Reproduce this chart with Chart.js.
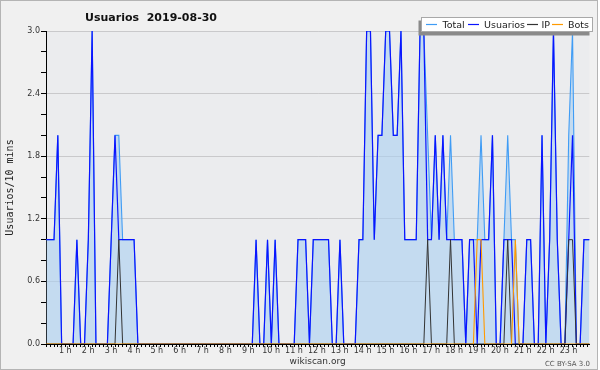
<!DOCTYPE html>
<html>
<head>
<meta charset="utf-8">
<title>Usuarios 2019-08-30</title>
<script src="https://cdn.jsdelivr.net/npm/chart.js@4/dist/chart.umd.min.js"></script>
<style>
  html, body { margin: 0; padding: 0; background: #ffffff; }
</style>
</head>
<body>
<canvas id="usersChart" width="600" height="370"></canvas>
<script>
//One value every 10 minutes, from 0:00 to 23:50 (6 values per row = 1 hour)
var total = [
    1,1,1,2,0,0,  0,0,1,0,0,1,  3,0,0,0,0,1,  2,2,1,1,1,1,
    0,0,0,0,0,0,  0,0,0,0,0,0,  0,0,0,0,0,0,  0,0,0,0,0,0,
    0,0,0,0,0,0,  0,1,0,0,1,0,  1,0,0,0,0,0,  1,1,1,0,1,1,
    1,1,1,0,0,1,  0,0,0,0,1,1,  3,3,1,2,2,3,  3,2,2,3,1,1,
    1,1,3,3,2,1,  2,1,2,1,2,1,  1,1,0,1,1,1,  2,1,1,2,0,0,
    1,2,1,1,0,0,  1,1,0,0,2,0,  1,3,1,0,0,2,  3,0,0,1,1,1
];
var usuarios = [
    1,1,1,2,0,0,  0,0,1,0,0,1,  3,0,0,0,0,1,  2,1,1,1,1,1,
    0,0,0,0,0,0,  0,0,0,0,0,0,  0,0,0,0,0,0,  0,0,0,0,0,0,
    0,0,0,0,0,0,  0,1,0,0,1,0,  1,0,0,0,0,0,  1,1,1,0,1,1,
    1,1,1,0,0,1,  0,0,0,0,1,1,  3,3,1,2,2,3,  3,2,2,3,1,1,
    1,1,3,3,1,1,  2,1,2,1,1,1,  1,1,0,1,1,0,  1,1,1,2,0,0,
    1,1,1,0,0,0,  1,1,0,0,2,0,  1,3,1,0,0,1,  2,0,0,1,1,1
];
var ip = [
    0,0,0,0,0,0,  0,0,0,0,0,0,  0,0,0,0,0,0,  0,1,0,0,0,0,
    0,0,0,0,0,0,  0,0,0,0,0,0,  0,0,0,0,0,0,  0,0,0,0,0,0,
    0,0,0,0,0,0,  0,0,0,0,0,0,  0,0,0,0,0,0,  0,0,0,0,0,0,
    0,0,0,0,0,0,  0,0,0,0,0,0,  0,0,0,0,0,0,  0,0,0,0,0,0,
    0,0,0,0,1,0,  0,0,0,0,1,0,  0,0,0,0,0,0,  0,0,0,0,0,0,
    0,1,0,0,0,0,  0,0,0,0,0,0,  0,0,0,0,0,1,  1,0,0,0,0,0
];
var bots = [
    0,0,0,0,0,0,  0,0,0,0,0,0,  0,0,0,0,0,0,  0,0,0,0,0,0,
    0,0,0,0,0,0,  0,0,0,0,0,0,  0,0,0,0,0,0,  0,0,0,0,0,0,
    0,0,0,0,0,0,  0,0,0,0,0,0,  0,0,0,0,0,0,  0,0,0,0,0,0,
    0,0,0,0,0,0,  0,0,0,0,0,0,  0,0,0,0,0,0,  0,0,0,0,0,0,
    0,0,0,0,0,0,  0,0,0,0,0,0,  0,0,0,0,0,1,  1,0,0,0,0,0,
    0,0,0,1,0,0,  0,0,0,0,0,0,  0,0,0,0,0,0,  0,0,0,0,0,0
];

//x positions = index of the 10 min slot
var slots = total.map(function (v, i) { return i; });

var seriesNames = ['Total', 'Usuarios', 'IP', 'Bots'];
var colors = ['#3f9cf5', '#0a14ff', '#333333', '#ff9a00'];
var titleText = 'Usuarios  2019-08-30';

//Background, frame, title, legend box and licence
var decorations = {
    id: 'decorations',
    beforeDraw: function (chart) {
        var ctx = chart.ctx;
        var area = chart.chartArea;
        ctx.save();
        ctx.fillStyle = '#f0f0f0';
        ctx.fillRect(0, 0, 598, 370);
        ctx.strokeStyle = '#b4b4b4';
        ctx.lineWidth = 1;
        ctx.strokeRect(0.5, 0.5, 597, 369);
        ctx.fillStyle = '#ebecee';
        ctx.fillRect(area.left, area.top, area.right - area.left, area.bottom - area.top);
        ctx.restore();
    },
    afterDraw: function (chart) {
        var ctx = chart.ctx;
        ctx.save();

        //Title
        ctx.fillStyle = '#111';
        ctx.font = 'bold 11px "DejaVu Sans"';
        ctx.textAlign = 'center';
        ctx.textBaseline = 'alphabetic';
        ctx.fillText(titleText, 151, 20.5);

        //Legend box, its shadow falls to the lower left
        ctx.fillStyle = '#8a8a8a';
        ctx.fillRect(418.5, 20.5, 171, 15);
        ctx.fillStyle = '#ffffff';
        ctx.fillRect(421.5, 17.5, 171, 14);
        ctx.strokeStyle = '#a8a8a8';
        ctx.lineWidth = 1;
        ctx.strokeRect(421.5, 17.5, 171, 14);

        var lineX = [426, 468, 527, 552];
        var textX = [442.5, 484, 541.5, 568];
        ctx.font = '9.5px "DejaVu Sans"';
        ctx.textAlign = 'left';
        for (var i = 0; i < seriesNames.length; i++) {
            ctx.strokeStyle = colors[i];
            ctx.lineWidth = 1.2;
            ctx.beginPath();
            ctx.moveTo(lineX[i], 24.5);
            ctx.lineTo(lineX[i] + 11, 24.5);
            ctx.stroke();
            ctx.fillStyle = '#222';
            ctx.fillText(seriesNames[i], textX[i], 28);
        }

        //Licence
        ctx.fillStyle = '#555';
        ctx.font = '7px "DejaVu Sans"';
        ctx.textAlign = 'right';
        ctx.fillText('CC BY-SA 3.0', 590, 366);
        ctx.restore();
    }
};

var ctx = document.getElementById('usersChart').getContext('2d');

var usersChart = new Chart(ctx, {
    type: 'line',
    data: {
        labels: slots,
        datasets: [{
            label: seriesNames[0],
            data: total,
            borderColor: colors[0],
            backgroundColor: 'rgba(172,209,241,0.62)',
            borderWidth: 1.1,
            fill: 'origin',
            order: 4
        }, {
            label: seriesNames[1],
            data: usuarios,
            borderColor: colors[1],
            borderWidth: 1.2,
            fill: false,
            order: 3
        }, {
            label: seriesNames[2],
            data: ip,
            borderColor: colors[2],
            borderWidth: 1,
            fill: false,
            order: 2
        }, {
            label: seriesNames[3],
            data: bots,
            borderColor: colors[3],
            borderWidth: 1.1,
            fill: false,
            order: 1
        }]
    },
    options: {
        responsive: false,
        animation: false,
        devicePixelRatio: 1,
        layout: {
            padding: { left: 0, top: 31, right: 10.7, bottom: 0 }
        },
        elements: {
            point: { radius: 0 },
            line: { tension: 0 }
        },
        plugins: {
            legend: { display: false },
            title: { display: false },
            tooltip: { enabled: false }
        },
        scales: {
            x: {
                type: 'linear',
                min: -0.1,
                max: 142.4,
                afterFit: function (scale) { scale.height = 26; },
                border: { display: true, color: '#000', width: 1 },
                grid: {
                    drawOnChartArea: false,
                    drawTicks: true,
                    tickLength: 3,
                    tickColor: '#000'
                },
                ticks: {
                    stepSize: 1,
                    autoSkip: false,
                    maxRotation: 0,
                    includeBounds: false,
                    padding: -1,
                    labelOffset: -4,
                    color: '#333',
                    font: { family: 'DejaVu Sans', size: 8 },
                    callback: function (value) {
                        if (value > 0 && value % 6 === 0) {
                            return (value / 6) + ' h';
                        }
                        return '';
                    }
                },
                title: {
                    display: true,
                    text: 'wikiscan.org',
                    color: '#333',
                    font: { family: 'DejaVu Sans', size: 9 },
                    padding: { top: 0, bottom: 2.5 }
                }
            },
            y: {
                min: 0,
                max: 3,
                afterFit: function (scale) { scale.width = 46; },
                border: { display: true, color: '#000', width: 1 },
                grid: {
                    tickLength: 5,
                    tickColor: '#000',
                    color: function (c) {
                        var tenths = Math.round(c.tick.value * 10);
                        return (tenths % 6 === 0) ? '#c9c9cb' : 'rgba(0,0,0,0)';
                    }
                },
                ticks: {
                    stepSize: 0.2,
                    padding: 1,
                    color: '#333',
                    font: { family: 'DejaVu Sans', size: 8 },
                    callback: function (value) {
                        var tenths = Math.round(value * 10);
                        return (tenths % 6 === 0) ? (tenths / 10).toFixed(1) : '';
                    }
                },
                title: {
                    display: true,
                    text: 'Usuarios/10 mins',
                    color: '#222',
                    font: { family: 'DejaVu Sans Mono', size: 10 },
                    padding: { top: 4, bottom: 0 }
                }
            }
        }
    },
    plugins: [decorations]
});
</script>
</body>
</html>
